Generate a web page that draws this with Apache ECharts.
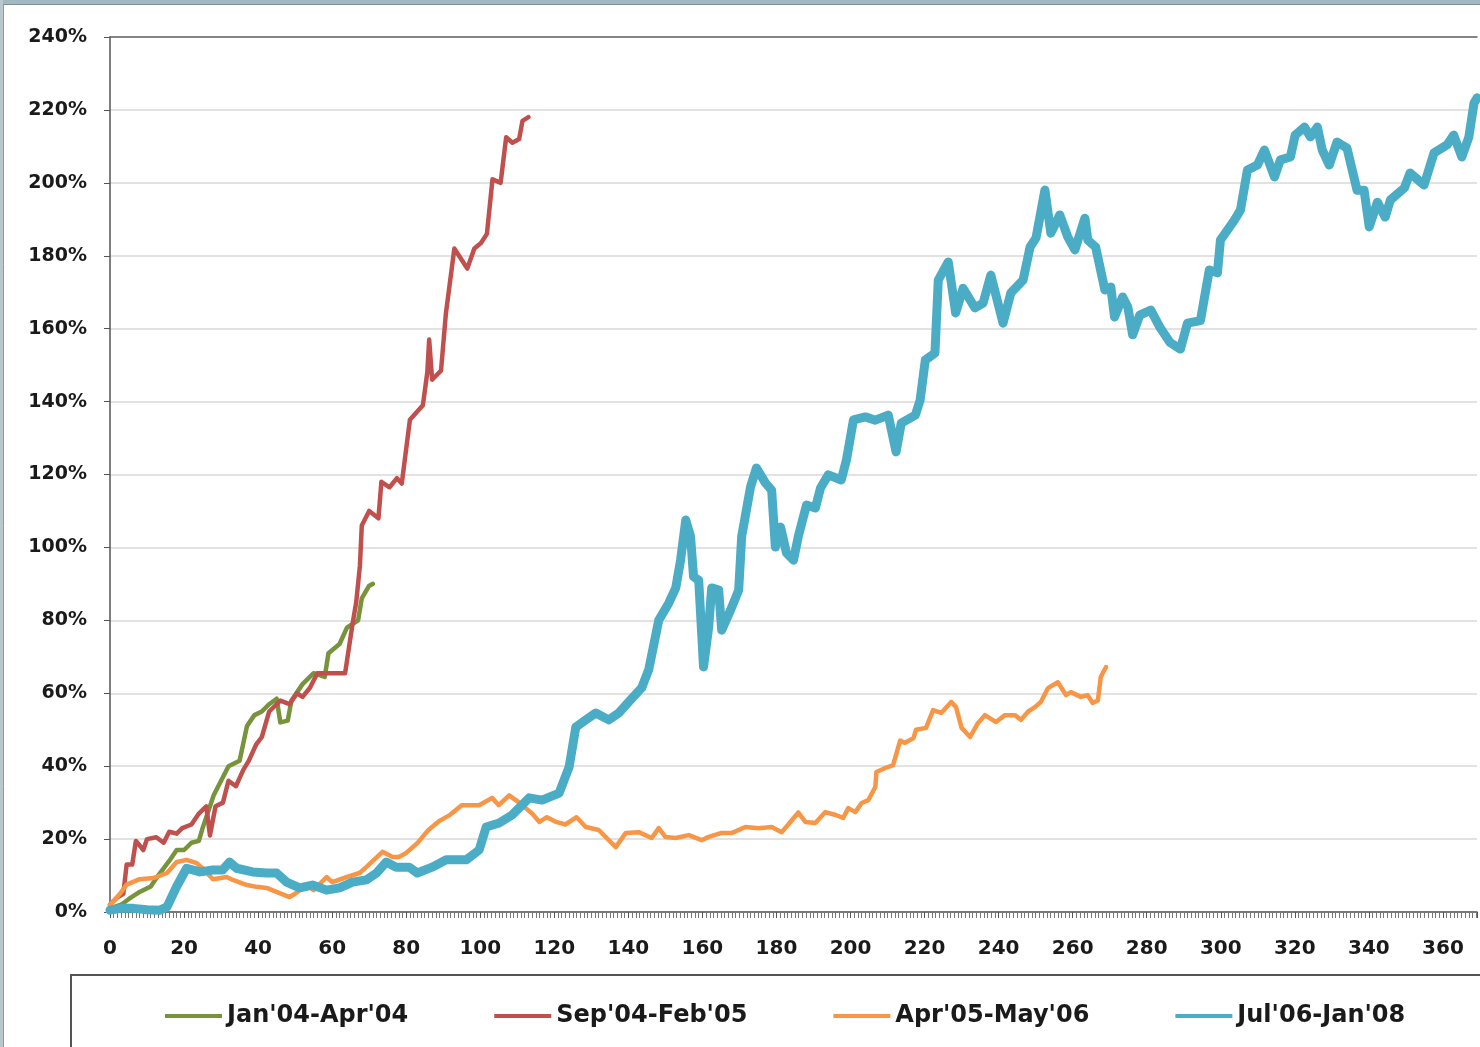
<!DOCTYPE html>
<html>
<head>
<meta charset="utf-8">
<script src="https://cdn.jsdelivr.net/npm/echarts@6/dist/echarts.min.js"></script>
<style>
html,body{margin:0;padding:0;background:#fff;overflow:hidden;}
#chart{width:1480px;height:1047px;}
</style>
</head>
<body>
<div id="chart"></div>
<script>
// ---- data: [day, % gain] ----
const seriesNames = ["Jan'04-Apr'04", "Sep'04-Feb'05", "Apr'05-May'06", "Jul'06-Jan'08"];

const greenData = [[0,1],[3,2],[5,3.5],[8,5.5],[11,7],[13,10],[16,14],[18,17],[20,17],[22,19],[24,19.5],[25,23],[26,26],[28,32],[30,36],[32,40],[35,41.5],[37,51],[39,54],[41,55],[43,57],[45,58.5],[46,52],[48,52.5],[49,58],[52,62.5],[55,65.5],[58,64.5],[59,71],[62,73.5],[64,78],[67,80],[68,86],[70,89.5],[71,90]];

const redData = [[0,2],[2,4],[3.6,5],[4.5,13],[6,13],[7,19.5],[9,17],[10,20],[12.5,20.5],[14.5,19],[16,22],[18,21.5],[19.5,23],[22,24],[24,27],[26,29],[27,21],[28.5,29],[30.5,30],[32,36],[34,34.5],[36,39],[37.5,41.5],[39.5,46],[41,48],[43,55],[46,58],[48.5,57],[50.5,60],[52,59],[54,61.5],[56,65.5],[58.5,65.5],[63.5,65.5],[65.5,79],[66.5,85],[67.5,95],[68,106],[70,110],[72.5,108],[73.3,118],[75.5,116.5],[77.5,119],[78.8,117.5],[81,135],[84.5,139],[85.7,148],[86.2,157],[87,146],[89.4,148.5],[90.7,164],[93,182],[96.5,176.5],[98.4,182],[100.2,183.5],[101.8,186],[103.3,201],[105.5,200],[107,212.5],[108.7,211],[110.5,212],[111.4,217],[113,218]];

const orangeData = [[0,2],[2.7,5],[4.5,7.5],[8,9],[11.7,9.3],[15.4,10.7],[18,13.7],[20.7,14.3],[23.4,13.4],[25,12],[27.8,9],[31.5,9.6],[33.2,8.8],[37,7.4],[39.6,6.9],[42.3,6.6],[45.8,5.2],[48.5,4.1],[50,5],[53,7.4],[55,6],[58.5,9.6],[60,8.2],[64,9.6],[67.4,10.7],[69.2,12.3],[71,14],[73.6,16.5],[76.3,15.1],[78,15.1],[80,16.2],[83,18.9],[86,22.5],[89,25],[91.6,26.5],[95,29.3],[99.7,29.3],[103.2,31.3],[105,29.3],[107.8,32],[110.5,30],[114,27],[116,24.7],[118,26],[120.5,24.7],[123,24],[126,26],[128.5,23.3],[132,22.5],[136.6,17.8],[139.3,21.7],[142.8,21.9],[146.3,20.3],[148.2,23],[150,20.6],[152.8,20.3],[156.3,21.1],[159.8,19.7],[161.7,20.6],[165.2,21.7],[168,21.7],[171.6,23.3],[175.2,23],[178.7,23.3],[181.4,21.9],[183.2,24],[185.9,27.3],[187.8,24.7],[190.5,24.4],[193.2,27.4],[196,26.6],[198,25.8],[199.4,28.5],[201.3,27.4],[203,29.9],[204.8,30.7],[206.7,34.3],[207,38.4],[209.4,39.5],[211.5,40.3],[213.4,47],[214.7,46.4],[217,47.7],[217.7,50],[220.4,50.5],[222.3,55.4],[224.5,54.6],[227.2,57.6],[228.5,56.2],[230,50.5],[232.3,48],[234.4,51.8],[236.3,54],[239.3,52.1],[241.7,54],[244.4,54],[246,52.7],[248,55],[249.8,56.2],[251.4,57.6],[253.3,61.4],[256,63],[258.2,59.5],[259.5,60.3],[262.2,59],[264,59.5],[265.4,57.3],[266.8,58],[267.6,64.5],[269,67.2]];

const cyanData = [[0,0.5],[3,1],[6.3,1],[10,0.6],[13.5,0.5],[15.4,1.4],[18,7],[20.7,12],[24.3,11],[27.8,11.5],[30.4,11.5],[32.3,13.7],[34.2,12],[38.5,11],[42.3,10.7],[45,10.7],[47.7,8.2],[51.2,6.6],[54.7,7.4],[58.5,6],[62,6.6],[65.5,8.2],[69.2,8.8],[72,10.7],[74.6,13.7],[77.3,12.3],[80.8,12.3],[83,10.7],[87,12.3],[90.8,14.3],[96.2,14.3],[99.7,17],[101.6,23.3],[105.1,24.4],[108.6,26.6],[113.2,31.3],[116.7,30.7],[121.3,32.6],[124,39.8],[125.8,50.7],[128.5,52.7],[131.2,54.6],[134.7,52.7],[137.4,54.6],[140.5,58.1],[143.6,61.5],[145.5,66.5],[148.2,80],[150.9,84.7],[152.8,88.9],[154.1,96.5],[155.5,107.5],[156.8,103],[157.6,92],[159,91],[160.3,67.2],[161.7,78.2],[162.5,88.9],[164.4,88.3],[165.2,77.3],[167.6,82.8],[169.8,88.3],[170.6,103],[173,116.6],[174.6,121.8],[177,117.7],[178.7,115.7],[179.7,100.1],[181.1,105.6],[182.7,98.5],[184.6,96.5],[185.9,103],[188.1,111.6],[190.5,110.8],[191.9,116.3],[194,119.9],[197.5,118.5],[198.9,124],[200.8,135],[204,135.8],[206.7,134.9],[210.2,136.3],[212.3,126.2],[213.7,134.1],[217.5,136.3],[218.8,140.4],[220.2,151.4],[222.8,153.3],[223.7,173.3],[226.4,178.3],[228.4,164.3],[230.4,171.1],[233.6,165.7],[235.8,167],[237.9,174.7],[241.2,161.5],[243.3,169.8],[246.6,173.3],[248.5,182.4],[250.1,184.9],[252.5,198],[254.1,186.2],[256.5,191.2],[258.7,185.1],[260.6,181.6],[263.3,190.3],[264.1,184.3],[266.2,182.4],[268.7,170.6],[270.3,171.4],[271.3,163.2],[273.5,168.7],[274.9,165.9],[276.2,158.3],[278.1,163.7],[281.1,165.1],[283.6,160.3],[286.3,156.2],[289.1,154.4],[291,161.5],[294.5,162.2],[296.9,176.1],[299.1,175.3],[299.9,184.3],[303.7,189.8],[305.3,192.5],[307.2,203.5],[309.9,204.9],[311.8,209],[314.5,201.6],[316.1,206.3],[318.8,207.1],[320.1,213.1],[322.6,215.3],[324.2,212.6],[326.1,215.3],[327.4,209],[329.3,204.9],[331.4,211.2],[334.1,209.5],[336.8,198],[338.7,198],[340.1,187.9],[342.3,194.7],[344.4,190.6],[345.8,195.3],[349.6,198.6],[351.1,202.7],[354.9,199.4],[357.6,208.2],[361.1,210.4],[362.9,213.1],[365.1,207.1],[367,212.6],[368.4,221.9],[369.2,223.3]];

const xTicks = {min: 0, max: 369.2, step: 20};
const yTicks = {min: 0, max: 240, step: 20};

const colors = ['#77933c', '#c0504d', '#f79646', '#4bacc6'];
const widths = [4.5, 4.5, 4.5, 9];
const allData = [greenData, redData, orangeData, cyanData];

const FONT = "'DejaVu Sans', Verdana, sans-serif";
const chart = echarts.init(document.getElementById('chart'), null, {renderer: 'canvas'});

chart.setOption({
  animation: false,
  backgroundColor: '#ffffff',
  color: colors,
  grid: {left: 110, top: 37, right: 0, height: 875, show: false},
  xAxis: [{
    type: 'value', min: xTicks.min, max: xTicks.max, interval: xTicks.step,
    axisLine: {show: true, lineStyle: {color: '#555', width: 1.5}},
    axisTick: {show: true, length: 6, lineStyle: {color: '#555', width: 1}},
    minorTick: {show: true, splitNumber: 20, length: 6, lineStyle: {color: '#777', width: 1}},
    splitLine: {show: false},
    axisLabel: {
      margin: 27, color: '#1a1a1a', fontFamily: FONT, fontWeight: 'bold', fontSize: 20,
      formatter: v => (v % 20 === 0 ? String(v) : '')
    }
  }, {
    type: 'value', position: 'top', min: xTicks.min, max: xTicks.max, interval: xTicks.step,
    axisLine: {show: true, lineStyle: {color: '#666', width: 1.5}},
    axisTick: {show: false}, axisLabel: {show: false}, splitLine: {show: false}
  }],
  yAxis: {
    type: 'value', min: yTicks.min, max: yTicks.max, interval: yTicks.step,
    axisLine: {show: true, lineStyle: {color: '#555', width: 1.5}},
    axisTick: {show: true, length: 6, lineStyle: {color: '#555', width: 1}},
    splitLine: {show: true, lineStyle: {color: '#d9d9d9', width: 1.5}},
    axisLabel: {
      margin: 23, color: '#1a1a1a', fontFamily: FONT, fontWeight: 'bold', fontSize: 19,
      formatter: v => v + '%'
    }
  },
  legend: {
    left: 160, top: 999, itemGap: 86, itemWidth: 57, itemHeight: 4, icon: 'rect',
    textStyle: {color: '#1a1a1a', fontFamily: FONT, fontWeight: 'bold', fontSize: 24},
    data: seriesNames
  },
  graphic: [
    {type: 'rect', shape: {x: 0, y: 0, width: 1480, height: 4}, style: {fill: '#a3b9c1'}, z: 100},
    {type: 'line', shape: {x1: 0, y1: 4.5, x2: 1480, y2: 4.5}, style: {stroke: '#7e9097', lineWidth: 1}, z: 100},
    {type: 'rect', shape: {x: 0, y: 0, width: 3, height: 1047}, style: {fill: '#b8c8cd'}, z: 100},
    {type: 'line', shape: {x1: 3.5, y1: 4, x2: 3.5, y2: 1047}, style: {stroke: '#8a9aa0', lineWidth: 1}, z: 100},
    {type: 'rect', shape: {x: 71, y: 975, width: 1500, height: 200}, style: {fill: 'none', stroke: '#555', lineWidth: 2}, z: 100}
  ],
  series: allData.map((d, i) => ({
    name: seriesNames[i],
    type: 'line',
    data: d,
    showSymbol: false,
    symbol: 'none',
    lineStyle: {color: colors[i], width: widths[i], cap: 'round', join: 'round'},
    itemStyle: {color: colors[i]},
    z: 2 + i
  }))
});
</script>
</body>
</html>
